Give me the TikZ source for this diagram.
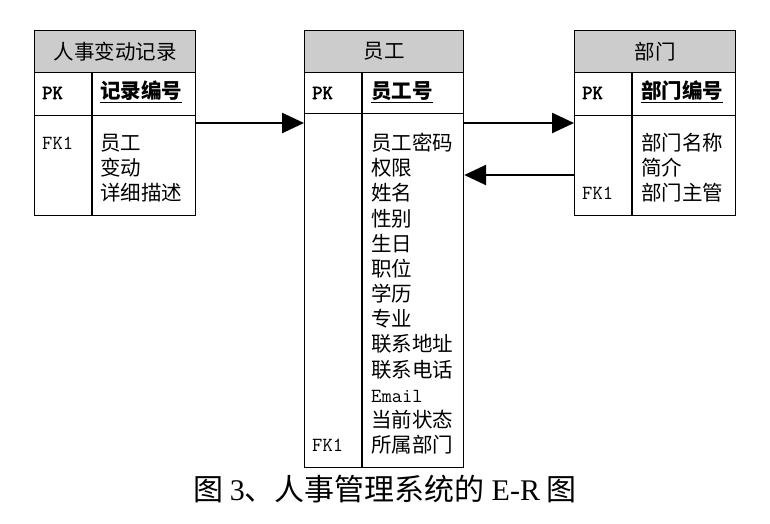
\documentclass[tikz,border=0pt]{standalone}
\usepackage{fontspec}
\setmainfont{Noto Sans CJK SC}
\newfontfamily\tms{Liberation Serif}
\newfontfamily\pkfont{Latin Modern Mono}[FakeBold=2.5]
\usetikzlibrary{arrows.meta}

\begin{document}
\begin{tikzpicture}[x=1pt,y=-1pt,
  box/.style={draw,line width=1.2pt,inner sep=0pt,anchor=north west},
  head/.style={box,fill=gray!40,minimum height=42pt,font=\fontsize{20.5}{25}\selectfont},
  txt/.style={anchor=base west,inner sep=0pt,font=\fontsize{20.5}{25}\selectfont},
  key/.style={anchor=base west,inner sep=0pt,font=\fontsize{20}{22}\selectfont\ttfamily},
  link/.style={line width=2.5pt,-{Triangle[length=22pt,width=20pt]}}]
\useasboundingbox (0,0) rectangle (770,523);

% 人事变动记录
\node[head,minimum width=161pt] (recH) at (34,30) {人事变动记录};
\node[box,minimum width=161pt,minimum height=43pt] (recK) at (34,72) {};
\node[box,minimum width=161pt,minimum height=100pt] (recB) at (34,115) {};
\draw[line width=1.2pt] (92,72)--(92,215);
\node[key] (recPK) at (42,99) {\pkfont PK};
\node[txt] (recID) at (100,98.5) {\bfseries\underline{记录编号}};
\node[key] (recFK) at (42,149) {FK1};
\foreach \t [count=\i] in {员工,变动,详细描述}
  \node[txt] (rec\i) at (100,{150.5+25.2*(\i-1)}) {\t};

% 员工
\node[head,minimum width=159pt] (empH) at (304,30) {员工};
\node[box,minimum width=159pt,minimum height=41pt] (empK) at (304,72) {};
\node[box,minimum width=159pt,minimum height=354pt] (empB) at (304,113) {};
\draw[line width=1.2pt] (362,72)--(362,467);
\node[key] (empPK) at (312,99) {\pkfont PK};
\node[txt] (empID) at (371,98.5) {\bfseries\underline{员工号}};
\foreach \t [count=\i] in {员工密码,权限,姓名,性别,生日,职位,学历,专业,联系地址,联系电话,
    {\ttfamily\fontsize{20}{22}\selectfont Email},当前状态,所属部门}
  \node[txt] (emp\i) at (371,{150.5+25.17*(\i-1)}) {\t};
\node[key] (empFK) at (312,451) {FK1};

% 部门
\node[head,minimum width=161pt] (depH) at (574,30) {部门};
\node[box,minimum width=161pt,minimum height=43pt] (depK) at (574,72) {};
\node[box,minimum width=161pt,minimum height=100pt] (depB) at (574,115) {};
\draw[line width=1.2pt] (632,72)--(632,215);
\node[key] (depPK) at (582,99) {\pkfont PK};
\node[txt] (depID) at (641,98.5) {\bfseries\underline{部门编号}};
\foreach \t [count=\i] in {部门名称,简介,部门主管}
  \node[txt] (dep\i) at (641,{150.5+25.2*(\i-1)}) {\t};
\node[key] (depFK) at (582,199) {FK1};

% links
\draw[link] ([yshift=-8pt]recB.north east) -- ([yshift=-8pt]recB.north east -| empB.west);
\draw[link] ([yshift=-10pt]empB.north east) -- ([yshift=-10pt]empB.north east -| depB.west);
\draw[link] ([yshift=-60pt]depB.north west) -- ([yshift=-60pt]depB.north west -| empB.east);

\node[anchor=base,inner sep=0pt,font=\fontsize{30}{30}\selectfont] (cap) at (385,500)
  {图 {\tms 3}、人事管理系统的 {\tms E-R} 图};
\end{tikzpicture}
\end{document}
